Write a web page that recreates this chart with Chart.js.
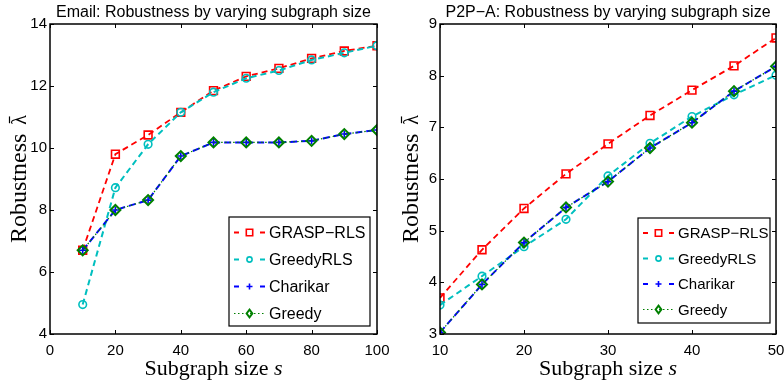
<!DOCTYPE html>
<html><head><meta charset="utf-8">
<script src="https://cdn.jsdelivr.net/npm/chart.js@4/dist/chart.umd.min.js"></script>
<style>
html,body{margin:0;padding:0;background:#fff;}
#wrap{position:relative;width:784px;height:385px;}
.cv{position:absolute;top:0;width:392px;height:385px;}
</style></head>
<body><div id="wrap">
<div class="cv" style="left:0"><canvas id="c1" width="392" height="385"></canvas></div>
<div class="cv" style="left:392px"><canvas id="c2" width="392" height="385"></canvas></div>
</div>
<script>
// ---- data ----
const seriesNames = ['GRASP\u2212RLS', 'GreedyRLS', 'Charikar', 'Greedy'];

const emailSizes   = [10, 20, 30, 40, 50, 60, 70, 80, 90, 100];
const emailGrasp   = [6.70, 9.80, 10.42, 11.15, 11.85, 12.31, 12.57, 12.89, 13.13, 13.30];
const emailGreedyRLS = [4.95, 8.72, 10.12, 11.15, 11.80, 12.25, 12.50, 12.84, 13.07, 13.30];
const emailCharikar = [6.70, 8.00, 8.32, 9.74, 10.18, 10.18, 10.18, 10.23, 10.45, 10.58];
const emailGreedy   = [6.70, 8.00, 8.32, 9.74, 10.18, 10.18, 10.18, 10.23, 10.45, 10.58];
const emailXTicks = [0, 20, 40, 60, 80, 100];
const emailYTicks = [4, 6, 8, 10, 12, 14];

const p2pSizes    = [10, 15, 20, 25, 30, 35, 40, 45, 50];
const p2pGrasp    = [3.70, 4.63, 5.43, 6.10, 6.68, 7.23, 7.72, 8.19, 8.73];
const p2pGreedyRLS = [3.56, 4.12, 4.69, 5.22, 6.06, 6.69, 7.21, 7.63, 8.01];
const p2pCharikar = [3.03, 3.96, 4.77, 5.45, 5.95, 6.60, 7.09, 7.70, 8.18];
const p2pGreedy   = [3.03, 3.96, 4.77, 5.45, 5.95, 6.60, 7.09, 7.70, 8.18];
const p2pXTicks = [10, 20, 30, 40, 50];
const p2pYTicks = [3, 4, 5, 6, 7, 8, 9];

// ---- styles ----
const styles = [
  {color:'#ff0000', dash:[6,4], width:1.8, point:'rect', r:5.5, pw:1.6, lr:3.2, order:3},
  {color:'#00bfbf', dash:[6,4], width:2, point:'circle', r:3.8, pw:1.6, lr:2.6, order:2},
  {color:'#0000ff', dash:[7,4], width:2, point:'cross', r:3.5, pw:1.6, lr:3, order:1},
  {color:'#008000', dash:[1.5,2.5], width:1.2, point:'rectRot', r:5, pw:2, lr:3.8, order:0}
];
const SANS = '"Liberation Sans", Arial, sans-serif';
const SERIF = '"Liberation Serif", "Times New Roman", serif';

function makeDatasets(xs, ys) {
  return ys.map((arr, i) => ({
    label: seriesNames[i],
    data: xs.map((x, k) => ({x: x, y: arr[k]})),
    borderColor: styles[i].color,
    backgroundColor: 'rgba(0,0,0,0)',
    borderDash: styles[i].dash,
    borderWidth: styles[i].width,
    pointStyle: styles[i].point,
    pointRadius: styles[i].r,
    pointBorderWidth: styles[i].pw,
    pointBorderColor: styles[i].color,
    pointBackgroundColor: 'rgba(0,0,0,0)',
    tension: 0,
    order: styles[i].order
  }));
}

function drawMarker(ctx, type, x, y, r, color, lw) {
  ctx.save();
  ctx.setLineDash([]);
  ctx.strokeStyle = color; ctx.lineWidth = lw;
  ctx.beginPath();
  if (type === 'rect') { ctx.rect(x - r, y - r, 2*r, 2*r); }
  else if (type === 'circle') { ctx.arc(x, y, r, 0, Math.PI*2); }
  else if (type === 'cross') { ctx.moveTo(x - r, y); ctx.lineTo(x + r, y); ctx.moveTo(x, y - r); ctx.lineTo(x, y + r); }
  else if (type === 'rectRot') { ctx.moveTo(x, y - r); ctx.lineTo(x + r*0.75, y); ctx.lineTo(x, y + r); ctx.lineTo(x - r*0.75, y); ctx.closePath(); }
  ctx.stroke();
  ctx.restore();
}

function decorPlugin(cfg) {
  return {
    id: 'decor',
    afterDraw(chart) {
      const ctx = chart.ctx, a = chart.chartArea;
      const xs = chart.scales.x, ys = chart.scales.y;
      ctx.save();
      // inward ticks
      ctx.strokeStyle = '#000'; ctx.lineWidth = 1; ctx.setLineDash([]);
      ctx.beginPath();
      cfg.xTicks.forEach(v => {
        const px = Math.round(xs.getPixelForValue(v)) + 0.5;
        ctx.moveTo(px, a.bottom); ctx.lineTo(px, a.bottom - 4);
        ctx.moveTo(px, a.top); ctx.lineTo(px, a.top + 4);
      });
      cfg.yTicks.forEach(v => {
        const py = Math.round(ys.getPixelForValue(v)) + 0.5;
        ctx.moveTo(a.left, py); ctx.lineTo(a.left + 4, py);
        ctx.moveTo(a.right, py); ctx.lineTo(a.right - 4, py);
      });
      ctx.stroke();
      // frame
      ctx.lineWidth = 1.5;
      ctx.strokeRect(a.left, a.top, a.right - a.left, a.bottom - a.top);
      // title
      ctx.fillStyle = '#000';
      ctx.font = '16px ' + SANS;
      ctx.textAlign = 'center'; ctx.textBaseline = 'middle';
      ctx.fillText(cfg.title, (a.left + a.right) / 2, 13);
      // x axis title with italic s
      const t1 = 'Subgraph size ';
      ctx.font = '22px ' + SERIF; const w1 = ctx.measureText(t1).width;
      ctx.font = 'italic 22px ' + SERIF; const w2 = ctx.measureText('s').width;
      let sx = (a.left + a.right) / 2 - (w1 + w2) / 2;
      ctx.textAlign = 'left';
      ctx.font = '22px ' + SERIF; ctx.fillText(t1, sx, 369);
      ctx.font = 'italic 22px ' + SERIF; ctx.fillText('s', sx + w1, 369);
      // y axis title: "Robustness" + barred lambda
      ctx.save();
      ctx.font = '24px ' + SERIF;
      const wr = ctx.measureText('Robustness').width;
      ctx.font = '20px ' + SERIF;
      const wl = ctx.measureText('\u03BB').width;
      const gap = 9;
      const total = wr + gap + wl;
      const cy = (a.top + a.bottom) / 2;
      ctx.translate(cfg.yTitleX, cy + total / 2);
      ctx.rotate(-Math.PI / 2);
      ctx.textAlign = 'left'; ctx.textBaseline = 'alphabetic';
      ctx.font = '24px ' + SERIF;
      ctx.fillText('Robustness', 0, 0);
      ctx.font = '20px ' + SERIF;
      ctx.fillText('\u03BB', wr + gap, 0);
      ctx.lineWidth = 1.2; ctx.strokeStyle = '#000';
      ctx.beginPath();
      ctx.moveTo(wr + gap + wl * 0.15, -16.5); ctx.lineTo(wr + gap + wl * 0.85, -16.5);
      ctx.stroke();
      ctx.restore();
      // legend
      const L = cfg.legend;
      ctx.fillStyle = '#fff';
      ctx.fillRect(L.x, L.y, L.w, L.h);
      ctx.lineWidth = 1.2; ctx.strokeStyle = '#000';
      ctx.strokeRect(L.x, L.y, L.w, L.h);
      chart.data.datasets.forEach((ds, i) => {
        const ly = L.y + L.first + i * L.step;
        const x0 = L.x + 5, x1 = x0 + 31, xm = (x0 + x1) / 2;
        ctx.save();
        ctx.strokeStyle = styles[i].color; ctx.lineWidth = styles[i].width;
        ctx.beginPath();
        if (i === 3) {
          ctx.lineWidth = 1.2;
          ctx.setLineDash([1.5, 2.5]);
          ctx.moveTo(x0, ly); ctx.lineTo(x1, ly);
        } else {
          ctx.setLineDash([]);
          ctx.moveTo(x0, ly); ctx.lineTo(x0 + 5, ly);
          ctx.moveTo(x1 - 5, ly); ctx.lineTo(x1, ly);
        }
        ctx.stroke();
        ctx.restore();
        drawMarker(ctx, styles[i].point, xm, ly, styles[i].lr, styles[i].color, styles[i].pw);
        ctx.fillStyle = '#000';
        ctx.font = L.font + 'px ' + SANS;
        ctx.textAlign = 'left'; ctx.textBaseline = 'middle';
        ctx.fillText(ds.label, x1 + 4, ly + 1);
      });
      ctx.restore();
    }
  };
}

function makeChart(id, xsArr, ysArrs, xMin, xMax, yMin, yMax, leftW, rightPad, cfg) {
  return new Chart(document.getElementById(id), {
    type: 'line',
    data: { datasets: makeDatasets(xsArr, ysArrs) },
    options: {
      responsive: false, animation: false,
      layout: { padding: { top: 24, right: rightPad, left: 0, bottom: 0 } },
      plugins: { legend: { display: false }, tooltip: { enabled: false }, title: { display: false } },
      scales: {
        x: {
          type: 'linear', min: xMin, max: xMax,
          afterFit: s => { s.height = 51; s.paddingLeft = 0; s.paddingRight = 0; },
          afterBuildTicks: s => { s.ticks = cfg.xTicks.map(v => ({value: v})); },
          grid: { display: false, drawTicks: false }, border: { display: false },
          ticks: { color: '#000', font: { family: SANS, size: 15 }, padding: 8, maxRotation: 0, autoSkip: false }
        },
        y: {
          type: 'linear', min: yMin, max: yMax,
          afterFit: s => { s.width = leftW; s.paddingTop = 0; s.paddingBottom = 0; },
          afterBuildTicks: s => { s.ticks = cfg.yTicks.map(v => ({value: v})); },
          grid: { display: false, drawTicks: false }, border: { display: false },
          ticks: { color: '#000', font: { family: SANS, size: 15 }, padding: 3 }
        }
      }
    },
    plugins: [decorPlugin(cfg)]
  });
}

makeChart('c1', emailSizes, [emailGrasp, emailGreedyRLS, emailCharikar, emailGreedy],
  0, 100, 4, 14, 50, 15,
  { title: 'Email: Robustness by varying subgraph size', xTicks: emailXTicks, yTicks: emailYTicks,
    yTitleX: 26, legend: { x: 229, y: 217, w: 141, h: 109, first: 15.5, step: 27, font: 16 } });

makeChart('c2', p2pSizes, [p2pGrasp, p2pGreedyRLS, p2pCharikar, p2pGreedy],
  10, 50, 3, 9, 48, 8,
  { title: 'P2P\u2212A: Robustness by varying subgraph size', xTicks: p2pXTicks, yTicks: p2pYTicks,
    yTitleX: 26, legend: { x: 246, y: 218, w: 132, h: 105, first: 15, step: 25.5, font: 15 } });
</script>
</body></html>
